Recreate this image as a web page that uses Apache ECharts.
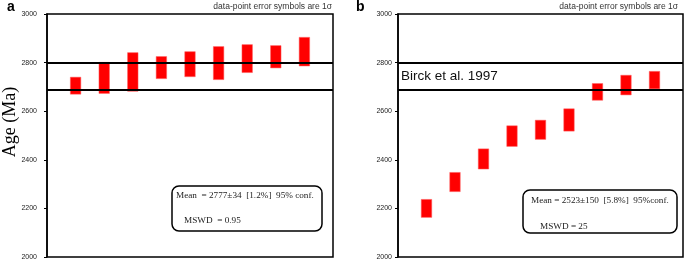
<!DOCTYPE html>
<html>
<head>
<meta charset="utf-8">
<script src="https://cdn.jsdelivr.net/npm/echarts@6/dist/echarts.min.js"></script>
<style>
  html, body { margin: 0; padding: 0; background: #fff; }
  #chart { width: 685px; height: 261px; }
</style>
</head>
<body>
<div id="chart"></div>
<script>
// analysis number on the x axis (1..9), age window per spot (Ma, 1 sigma)
const spots = [1, 2, 3, 4, 5, 6, 7, 8, 9];
const lowA = [2670, 2673, 2682, 2734, 2742, 2730, 2759, 2778, 2786];
const highA = [2740, 2801, 2841, 2825, 2845, 2866, 2874, 2870, 2904];
const lowB = [2163, 2269, 2362, 2455, 2484, 2518, 2645, 2667, 2692];
const highB = [2237, 2348, 2445, 2540, 2563, 2610, 2714, 2748, 2764];
// Birck et al. 1997 reference band
const refLines = [2800, 2688];
const yMin = 2000;
const yMax = 3000;
const yStep = 200;
const xMin = 0;
const xMax = 10;

const panelLabels = ["a", "b"];
const noteText = "data-point error symbols are 1σ";
const statsA = ["Mean  = 2777±34  [1.2%]  95% conf.", "MSWD  = 0.95"];
const statsB = ["Mean = 2523±150  [5.8%]  95%conf.", "MSWD = 25"];

const chart = echarts.init(document.getElementById("chart"), null, { renderer: "canvas" });

const sans = "Liberation Sans, Arial, sans-serif";
const serif = "Liberation Serif, Times New Roman, serif";

const renderBar = (params, api) => {
  const x = api.value(0);
  const lo = api.coord([x, api.value(1)]);
  const hi = api.coord([x, api.value(2)]);
  const w = 10.5;
  return {
    type: "rect",
    shape: { x: lo[0] - w / 2, y: hi[1], width: w, height: lo[1] - hi[1] },
    style: { fill: "#ff0000", stroke: "#ff6060", lineWidth: 0.5 }
  };
};

const buildXAxis = (gridIndex) => ({
  type: "value",
  gridIndex,
  min: xMin,
  max: xMax,
  axisLine: { show: false },
  axisTick: { show: false },
  axisLabel: { show: false },
  splitLine: { show: false }
});

const buildYAxis = (gridIndex, margin) => ({
  type: "value",
  gridIndex,
  min: yMin,
  max: yMax,
  interval: yStep,
  axisLine: { show: true, lineStyle: { color: "#000", width: 1.5 } },
  axisTick: { show: true, length: 3, inside: false, lineStyle: { color: "#000", width: 1 } },
  axisLabel: { color: "#222", fontSize: 7, fontFamily: sans, margin, formatter: (v) => String(v) },
  splitLine: { show: false }
});

const buildBars = (lows, highs, idx) => ({
  type: "custom",
  xAxisIndex: idx,
  yAxisIndex: idx,
  renderItem: renderBar,
  silent: true,
  clip: false,
  data: spots.map((s, i) => [s, lows[i], highs[i]]),
  z: 3
});

const buildRefLines = (idx) => ({
  type: "line",
  xAxisIndex: idx,
  yAxisIndex: idx,
  data: [],
  silent: true,
  markLine: {
    symbol: "none",
    silent: true,
    label: { show: false },
    lineStyle: { color: "#000", width: 2, type: "solid" },
    data: refLines.map((v) => ({ yAxis: v }))
  },
  z: 4
});

const text = (x, y, str, opts) => ({
  type: "text",
  x,
  y,
  style: Object.assign({ text: str, fill: "#000", font: "8px " + sans, textAlign: "left", textVerticalAlign: "middle" }, opts),
  z: 10
});

const box = (x, y, w, h) => ({
  type: "rect",
  shape: { x, y, width: w, height: h, r: 7 },
  style: { fill: "#fff", stroke: "#000", lineWidth: 1.5 },
  z: 9
});

chart.setOption({
  animation: false,
  grid: [
    { left: 47, top: 14, width: 286, bottom: 4, show: true, borderColor: "#000", borderWidth: 1.5, outerBoundsMode: "none" },
    { left: 398, top: 14, width: 285, bottom: 4, show: true, borderColor: "#000", borderWidth: 1.5, outerBoundsMode: "none" }
  ],
  xAxis: [buildXAxis(0), buildXAxis(1)],
  yAxis: [buildYAxis(0, 10), buildYAxis(1, 6)],
  series: [
    buildBars(lowA, highA, 0),
    buildBars(lowB, highB, 1),
    buildRefLines(0),
    buildRefLines(1)
  ],
  graphic: [
    text(7, 7, panelLabels[0], { font: "bold 14px " + sans }),
    text(356, 7, panelLabels[1], { font: "bold 14px " + sans }),
    text(332, 7, noteText, { font: "8.5px " + sans, fill: "#333", textAlign: "right" }),
    text(678, 7, noteText, { font: "8.5px " + sans, fill: "#333", textAlign: "right" }),
    {
      type: "text",
      x: 10,
      y: 122,
      rotation: Math.PI / 2,
      style: { text: "Age (Ma)", font: "18px " + serif, fill: "#000", textAlign: "center", textVerticalAlign: "middle" },
      z: 10
    },
    text(401, 76.5, "Birck et al. 1997", { font: "13.5px " + sans, fill: "#111" }),
    box(172, 186, 150, 45),
    text(176, 196, statsA[0], { font: "9.2px " + serif, fill: "#222" }),
    text(184, 221, statsA[1], { font: "9.2px " + serif, fill: "#222" }),
    box(523, 190, 154, 43),
    text(531, 201, statsB[0], { font: "9.2px " + serif, fill: "#222" }),
    text(540, 227, statsB[1], { font: "9.2px " + serif, fill: "#222" })
  ]
});
</script>
</body>
</html>
